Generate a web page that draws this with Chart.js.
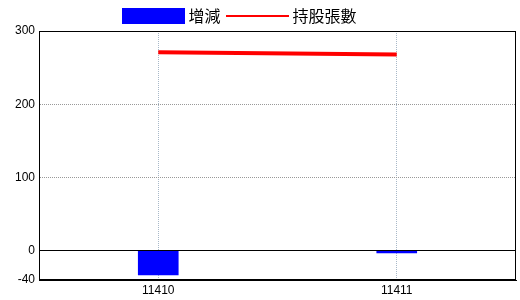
<!DOCTYPE html>
<html>
<head>
<meta charset="utf-8">
<script src="https://cdn.jsdelivr.net/npm/chart.js@4/dist/chart.umd.min.js"></script>
<style>
  html, body { margin: 0; padding: 0; background: #fff; }
  canvas { display: block; }
</style>
</head>
<body>
<canvas id="chart" width="520" height="300"></canvas>
<script>
"use strict";

// ----- data ----------------------------------------------------------------- //
const CATEGORIES = ["11410", "11411"];
const CHANGE     = [-33, -3];      // 增減
const HOLDINGS   = [271, 268];     // 持股張數
const Y_TICKS    = [-40, 0, 100, 200, 300];

const LABEL_CHANGE   = "增減";
const LABEL_HOLDINGS = "持股張數";

// ----- legend swatches ------------------------------------------------------ //
function swatchBox(color) {
  const c = document.createElement("canvas");
  c.width = 63;
  c.height = 16;
  const g = c.getContext("2d");
  g.fillStyle = color;
  g.fillRect(0, 0, c.width, c.height);
  return c;
}

function swatchLine(color) {
  const c = document.createElement("canvas");
  c.width = 63;
  c.height = 16;
  const g = c.getContext("2d");
  g.fillStyle = color;
  g.fillRect(0, 7, c.width, 2);
  return c;
}

const BAR_SWATCH  = swatchBox("#0000ff");
const LINE_SWATCH = swatchLine("#ff0000");

// nudge the legend to sit where the original put it
const legendShift = {
  id: "legendShift",
  afterLayout(chart) {
    const lg = chart.legend;
    if (!lg) return;
    lg.left -= 16;
    lg.right -= 16;
    lg.top += 3;
    lg.bottom += 3;
  },
};

// plain black frame round the plot area
const plotFrame = {
  id: "plotFrame",
  afterDraw(chart) {
    const { ctx, chartArea: a } = chart;
    ctx.save();
    ctx.strokeStyle = "#000";
    ctx.lineWidth = 1;
    ctx.strokeRect(Math.round(a.left) + 0.5, Math.round(a.top) + 0.5,
                   Math.round(a.right - a.left) - 1, Math.round(a.bottom - a.top) - 1);
    ctx.restore();
  },
};

// ----- chart ---------------------------------------------------------------- //
new Chart(document.getElementById("chart"), {
  data: {
    labels: CATEGORIES,
    datasets: [
      {
        type: "line",
        label: LABEL_HOLDINGS,
        data: HOLDINGS,
        borderColor: "#ff0000",
        backgroundColor: "#ff0000",
        borderWidth: 4,
        pointRadius: 0,
        pointHoverRadius: 0,
        tension: 0,
        order: 1,
      },
      {
        type: "bar",
        label: LABEL_CHANGE,
        data: CHANGE,
        backgroundColor: "#0000ff",
        borderWidth: 0,
        barThickness: 40,
        order: 2,
      },
    ],
  },
  options: {
    responsive: false,
    animation: false,
    layout: { padding: { top: -6, right: 4, left: 0, bottom: 0 } },
    plugins: {
      tooltip: { enabled: false },
      legend: {
        position: "top",
        reverse: true,
        labels: {
          usePointStyle: true,
          pointStyleWidth: 53,
          padding: 11,
          color: "#000",
          font: { family: "'Noto Sans CJK TC', 'Noto Sans CJK SC', sans-serif", size: 16 },
          generateLabels(chart) {
            const items = Chart.defaults.plugins.legend.labels.generateLabels(chart);
            items.forEach(it => {
              const ds = chart.data.datasets[it.datasetIndex];
              it.pointStyle = ds.type === "bar" ? BAR_SWATCH : LINE_SWATCH;
            });
            return items;
          },
        },
      },
    },
    scales: {
      x: {
        type: "category",
        offset: true,
        grid: {
          offset: false,
          drawTicks: false,
          color: "#a8b8c8",
        },
        border: {
          color: "#000",
          dash: ctx => (ctx.type === "tick" ? [1, 1] : []),
        },
        ticks: {
          color: "#000",
          padding: 3,
          font: { family: "'Liberation Sans Narrow', 'Liberation Sans', sans-serif", size: 12 },
        },
        afterFit(scale) { scale.height = 20; },
      },
      y: {
        min: -40,
        max: 300,
        afterBuildTicks(scale) {
          scale.ticks = Y_TICKS.map(v => ({ value: v }));
        },
        grid: {
          drawTicks: false,
          color: ctx => (ctx.tick && [100, 200].includes(ctx.tick.value) ? "#999999" : "#000"),
        },
        border: {
          color: "#000",
          dash: ctx => (ctx.type === "tick" && [100, 200].includes(ctx.tick.value) ? [1, 1] : []),
        },
        ticks: {
          color: "#000",
          padding: 4,
          font: { family: "'Liberation Sans Narrow', 'Liberation Sans', sans-serif", size: 12 },
        },
        afterFit(scale) { scale.width = 39; },
      },
    },
  },
  plugins: [legendShift, plotFrame],
});
</script>
</body>
</html>
